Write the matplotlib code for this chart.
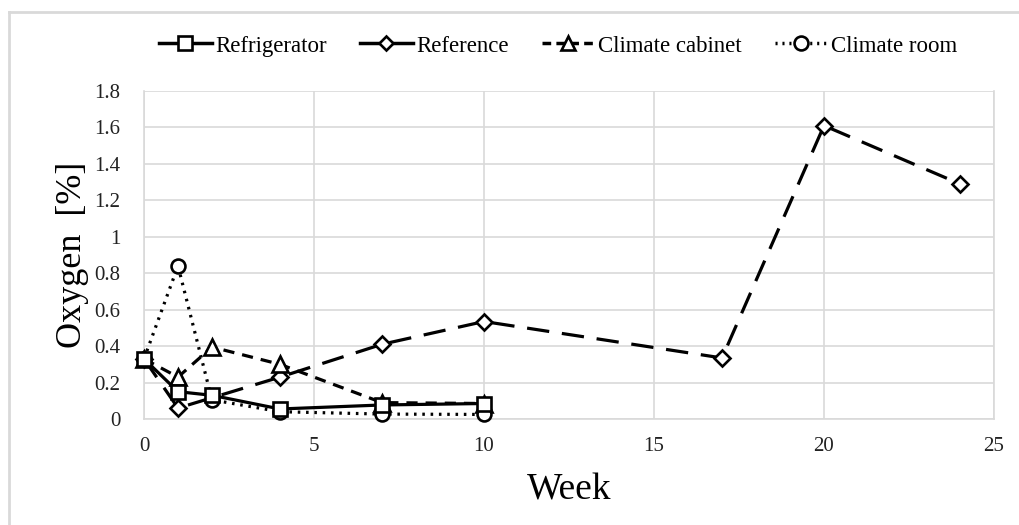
import matplotlib
matplotlib.use("Agg")
import matplotlib.pyplot as plt
from matplotlib.lines import Line2D

plt.rcParams['font.family'] = ['Liberation Serif', 'DejaVu Serif']

weeks_short = [0, 1, 2, 4, 7, 10]
refrigerator = [0.33, 0.15, 0.13, 0.055, 0.077, 0.085]
climate_cabinet = [0.33, 0.23, 0.395, 0.30, 0.09, 0.085]
climate_room = [0.33, 0.84, 0.105, 0.04, 0.027, 0.025]

weeks_reference = [0, 1, 4, 7, 10, 17, 20, 24]
reference = [0.33, 0.06, 0.23, 0.41, 0.535, 0.335, 1.61, 1.29]

x_ticks = [0, 5, 10, 15, 20, 25]
y_ticks = [0, 0.2, 0.4, 0.6, 0.8, 1, 1.2, 1.4, 1.6, 1.8]
y_tick_labels = ["0", "0.2", "0.4", "0.6", "0.8", "1", "1.2", "1.4", "1.6", "1.8"]

fig = plt.figure(figsize=(10.2, 5.25), dpi=100)
ax = fig.add_axes([144 / 1020, 1 - 419 / 525, (994 - 144) / 1020, (419 - 91) / 525])

mk = dict(markersize=10, markerfacecolor='white', markeredgecolor='black', markeredgewidth=1.9)

ax.plot(weeks_reference, reference, color='black', lw=2.3, linestyle=(0, (7, 4)),
        marker='D', zorder=3, clip_on=False, **{**mk, 'markersize': 8.5})
ax.plot(weeks_short, climate_cabinet, color='black', lw=2.3, linestyle=(0, (3.5, 2.5)),
        marker='^', zorder=4, clip_on=False, **{**mk, 'markersize': 11})
ax.plot(weeks_short, climate_room, color='black', lw=2.3, linestyle=(0, (0.8, 1.8)),
        marker='o', zorder=5, clip_on=False, **mk)
ax.plot(weeks_short, refrigerator, color='black', lw=2.3, linestyle='-',
        marker='s', zorder=6, clip_on=False, **mk)

ax.set_xlim(0, 25)
ax.set_ylim(0, 1.8)
ax.set_xticks(x_ticks)
ax.set_yticks(y_ticks)
ax.set_yticklabels(y_tick_labels)
ax.tick_params(axis='both', length=0, labelsize=15, colors='#222222')
ax.tick_params(axis='x', pad=13)
ax.tick_params(axis='y', pad=17)
ax.grid(True, color='#d9d9d9', lw=1.2)
ax.set_axisbelow(True)
ax.spines['top'].set_visible(False)
for side in ['left', 'bottom', 'right']:
    ax.spines[side].set_color('#d9d9d9')
    ax.spines[side].set_linewidth(1.2)

ax.set_xlabel('Week', fontsize=27, labelpad=12)
ax.set_ylabel('Oxygen  [%]', fontsize=26, labelpad=4)

handles = [
    Line2D([], [], color='black', lw=2.5, linestyle='-', marker='s', **mk),
    Line2D([], [], color='black', lw=2.5, linestyle='-', marker='D', **{**mk, 'markersize': 7.5}),
    Line2D([], [], color='black', lw=2.5, linestyle=(0, (2.5, 1.5)), marker='^', **mk),
    Line2D([], [], color='black', lw=2.5, linestyle=(0, (0.6, 1.4)), marker='o', **mk),
]
labels = ['Refrigerator', 'Reference', 'Climate cabinet', 'Climate room']
fig.legend(handles, labels, loc='center', bbox_to_anchor=(0.547, 1 - 46 / 525), ncol=4,
           frameon=False, fontsize=16.5, handlelength=2.3, handletextpad=0.15,
           columnspacing=1.45)

# light frame around the chart area
fig.add_artist(Line2D([9 / 1020, 9 / 1020], [0, 1 - 12 / 525], transform=fig.transFigure,
                      color='#d9d9d9', lw=2))
fig.add_artist(Line2D([9 / 1020, 1], [1 - 12 / 525, 1 - 12 / 525], transform=fig.transFigure,
                      color='#d9d9d9', lw=2))

fig.savefig('out.png', dpi=100)
